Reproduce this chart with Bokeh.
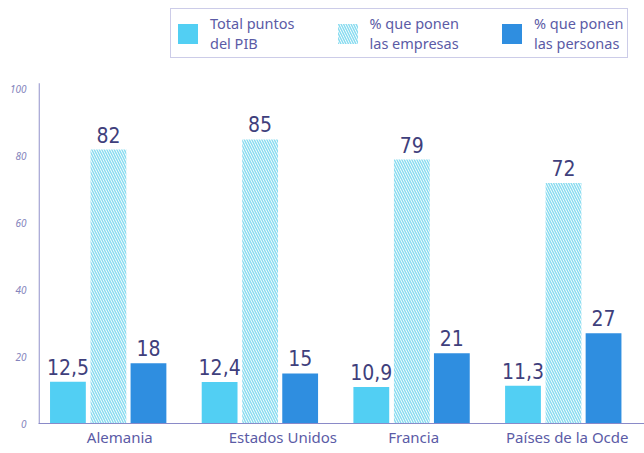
from bokeh.plotting import figure
from bokeh.models import Legend, LegendItem, FixedTicker, ColumnDataSource, Range1d
from bokeh.core.properties import value
from bokeh.embed import file_html
from bokeh.resources import INLINE

# ---- data ----
countries = ["Alemania", "Estados Unidos", "Francia", "Países de la Ocde"]
total_pib = [12.5, 12.4, 10.9, 11.3]
empresas = [82, 85, 79, 72]
personas = [18, 15, 21, 27]
y_ticks = [0, 20, 40, 60, 80, 100]
series_names = ["Total puntos\ndel PIB", "% que ponen\nlas empresas", "% que ponen\nlas personas"]

# ---- styling / layout ----
LIGHT = "#52cff3"
DARK = "#2f8ee0"
HATCH = "#8adcf0"
NUM_COLOR = "#3f3f7c"
AXIS_COLOR = "#8a8ac8"
LABEL_COLOR = "#5b5ba6"
offsets = [-0.267, 0.0, 0.264]
bar_w = 0.236
label_shift = [0.075, 0.15, 0.012, 0.025]
X0, X1 = -0.461, 3.534
AXIS_TOP = 101.8
NUM_FONT = "'Liberation Sans Narrow', 'DejaVu Sans Condensed', 'Roboto Condensed', Roboto, sans-serif"

def fmt(v):
    return ("%g" % v).replace(".", ",")

p = figure(frame_width=606, frame_height=418,
           x_range=Range1d(X0, X1), y_range=Range1d(0, 125.1),
           min_border_left=38, min_border_right=0, min_border_top=5, min_border_bottom=30,
           output_backend="svg", toolbar_location=None)
p.outline_line_color = None
p.xgrid.grid_line_color = None
p.ygrid.grid_line_color = None
p.background_fill_color = "white"
p.border_fill_color = "white"

# y axis line drawn only up to just above 100
p.segment(x0=[X0 + 0.004], y0=[0], x1=[X0 + 0.004], y1=[AXIS_TOP], line_color=AXIS_COLOR, line_width=1.2)

renderers = []
series = [total_pib, empresas, personas]
for k, vals in enumerate(series):
    xs = [i + offsets[k] for i in range(len(countries))]
    src = ColumnDataSource(dict(x=xs, top=vals, label=[fmt(v) for v in vals]))
    if k == 1:
        r = p.vbar(x="x", top="top", width=bar_w, source=src, fill_color="white",
                   line_color=None, hatch_pattern="\\", hatch_color=HATCH,
                   hatch_scale=5, hatch_weight=1.5)
    else:
        r = p.vbar(x="x", top="top", width=bar_w, source=src,
                   fill_color=LIGHT if k == 0 else DARK, line_color=None)
    renderers.append(r)
    p.text(x="x", y="top", text="label", source=src, text_align="center",
           text_baseline="bottom", y_offset=-7, text_color=NUM_COLOR,
           text_font=value(NUM_FONT), text_font_size="21px")

# x axis
p.xaxis.ticker = FixedTicker(ticks=[i + label_shift[i] for i in range(len(countries))])
p.xaxis.major_label_overrides = {i + label_shift[i]: c for i, c in enumerate(countries)}
p.xaxis.axis_line_color = AXIS_COLOR
p.xaxis.axis_line_width = 1.2
p.xaxis.major_tick_line_color = None
p.xaxis.minor_tick_line_color = None
p.xaxis.major_tick_out = 0
p.xaxis.major_label_text_font = "Noto Sans"
p.xaxis.major_label_text_font_size = "15px"
p.xaxis.major_label_text_color = LABEL_COLOR
p.xaxis.major_label_standoff = 3

# y axis
p.yaxis.ticker = FixedTicker(ticks=y_ticks)
p.yaxis.axis_line_color = None
p.yaxis.major_tick_line_color = None
p.yaxis.minor_tick_line_color = None
p.yaxis.major_label_text_font = "Noto Sans"
p.yaxis.major_label_text_font_style = "italic"
p.yaxis.major_label_text_font_size = "10px"
p.yaxis.major_label_text_color = "#8484bc"
p.yaxis.major_label_standoff = 6

legend = Legend(items=[LegendItem(label=series_names[k], renderers=[renderers[k]]) for k in range(3)],
                orientation="horizontal", location=(132, 365),
                border_line_color="#9a9ad2", border_line_width=1,
                background_fill_color="white", background_fill_alpha=1,
                label_text_font="Noto Sans", label_text_font_size="14.5px",
                label_text_color=LABEL_COLOR, label_text_line_height=0.88,
                glyph_width=25, glyph_height=25, spacing=40, padding=4,
                label_standoff=10, margin=0)
legend.padding = 4
p.add_layout(legend, "center")

open("out.html", "w").write(file_html(p, INLINE))
